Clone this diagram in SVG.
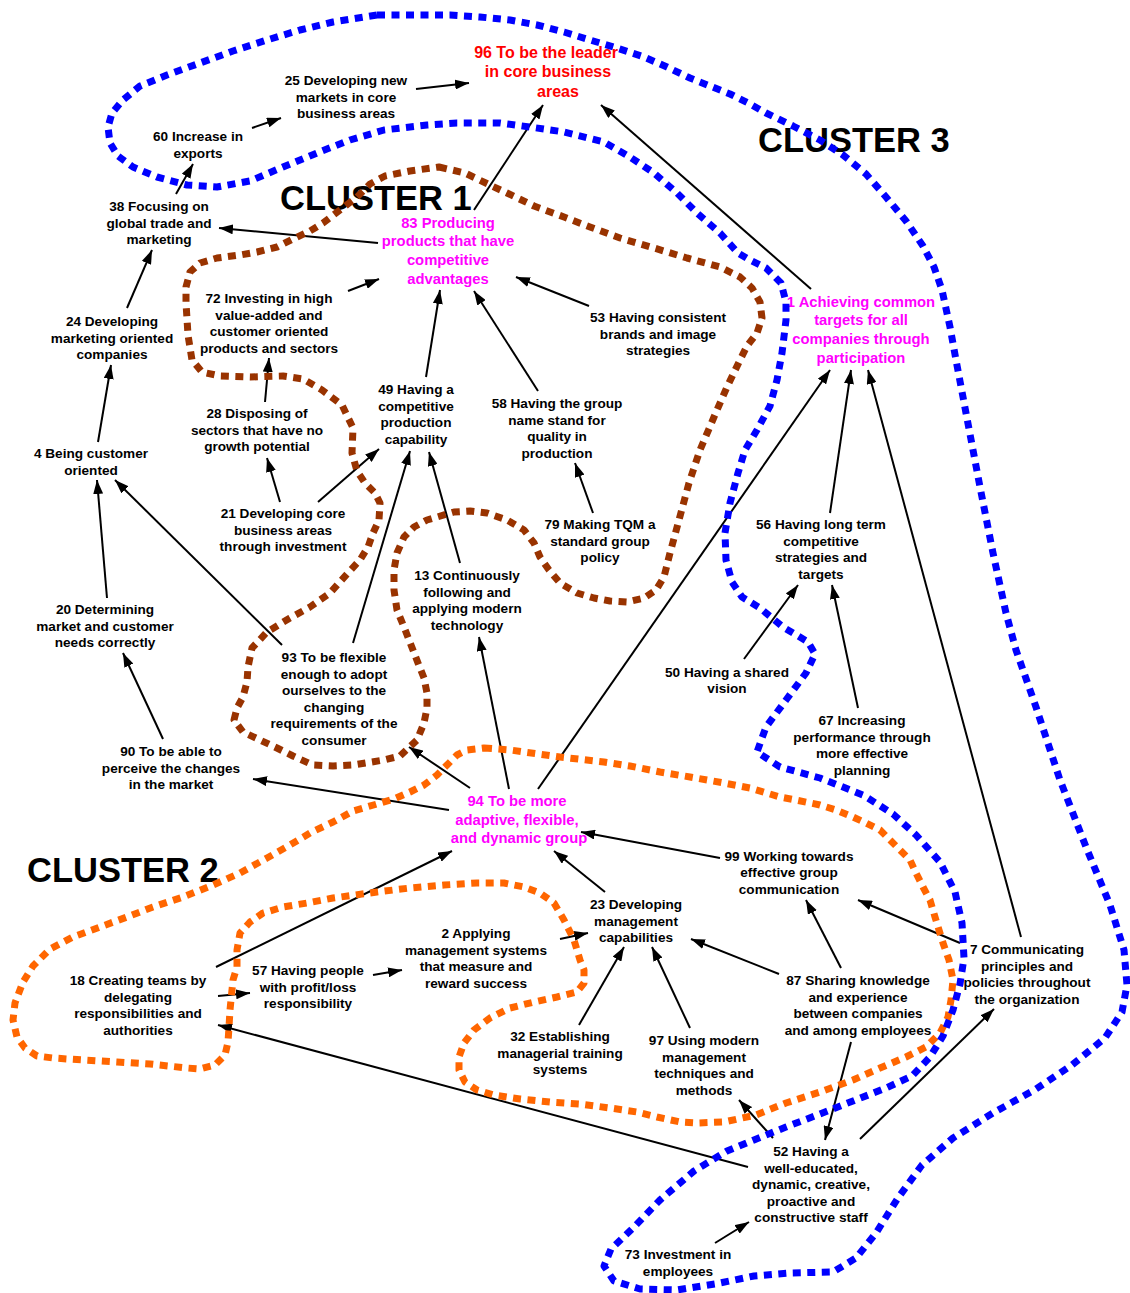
<svg xmlns="http://www.w3.org/2000/svg" width="1130" height="1293" viewBox="0 0 1130 1293">
<defs>
<style>
.n{font-family:"Liberation Sans",Arial,sans-serif;font-weight:bold;font-size:13.6px;fill:#000;text-anchor:middle}
.m{font-family:"Liberation Sans",Arial,sans-serif;font-weight:bold;font-size:14.8px;fill:#FF00FF;text-anchor:middle}
.r{font-family:"Liberation Sans",Arial,sans-serif;font-weight:bold;font-size:16px;fill:#FF0000;text-anchor:middle}
.cl{font-family:"Liberation Sans",Arial,sans-serif;font-weight:bold;font-size:34.5px;fill:#000}
.c line{stroke:#000;stroke-width:2;marker-end:url(#ah)}
.dot{fill:none;stroke-width:7;stroke-dasharray:8 6.5;stroke-linejoin:round}
</style>
<marker id="ah" markerUnits="userSpaceOnUse" markerWidth="14" markerHeight="10" refX="14" refY="5" orient="auto"><path d="M0,0 L14,5 L0,10 Z" fill="#000"/></marker>
</defs>
<rect width="1130" height="1293" fill="#fff"/>
<g id="connectors" class="c">
<line x1="252" y1="128" x2="281" y2="118"/>
<line x1="416" y1="89" x2="469" y2="83"/>
<line x1="176" y1="194" x2="193" y2="164"/>
<line x1="378" y1="243" x2="219" y2="228"/>
<line x1="474" y1="210" x2="543" y2="105"/>
<line x1="811" y1="289" x2="601" y2="105"/>
<line x1="127" y1="308" x2="152" y2="250"/>
<line x1="348" y1="291" x2="379" y2="279"/>
<line x1="589" y1="306" x2="516" y2="277"/>
<line x1="426" y1="377" x2="440" y2="290"/>
<line x1="538" y1="391" x2="474" y2="291"/>
<line x1="98" y1="442" x2="111" y2="365"/>
<line x1="265" y1="402" x2="269" y2="358"/>
<line x1="280" y1="502" x2="267" y2="458"/>
<line x1="318" y1="502" x2="379" y2="449"/>
<line x1="107" y1="598" x2="97" y2="480"/>
<line x1="282" y1="645" x2="115" y2="480"/>
<line x1="353" y1="643" x2="410" y2="451"/>
<line x1="460" y1="563" x2="429" y2="452"/>
<line x1="593" y1="513" x2="575" y2="463"/>
<line x1="163" y1="739" x2="123" y2="653"/>
<line x1="449" y1="810" x2="253" y2="779"/>
<line x1="470" y1="788" x2="409" y2="747"/>
<line x1="509" y1="789" x2="479" y2="637"/>
<line x1="538" y1="789" x2="830" y2="370"/>
<line x1="830" y1="513" x2="851" y2="370"/>
<line x1="1021" y1="937" x2="868" y2="370"/>
<line x1="744" y1="659" x2="798" y2="585"/>
<line x1="858" y1="708" x2="832" y2="585"/>
<line x1="720" y1="858" x2="581" y2="832"/>
<line x1="605" y1="892" x2="554" y2="851"/>
<line x1="216" y1="967" x2="452" y2="851"/>
<line x1="218" y1="996" x2="250" y2="993"/>
<line x1="373" y1="975" x2="402" y2="970"/>
<line x1="560" y1="939" x2="588" y2="933"/>
<line x1="579" y1="1025" x2="624" y2="947"/>
<line x1="690" y1="1028" x2="652" y2="947"/>
<line x1="779" y1="974" x2="691" y2="939"/>
<line x1="841" y1="968" x2="806" y2="900"/>
<line x1="960" y1="943" x2="858" y2="900"/>
<line x1="851" y1="1042" x2="825" y2="1140"/>
<line x1="860" y1="1139" x2="994" y2="1009"/>
<line x1="773" y1="1138" x2="739" y2="1100"/>
<line x1="748" y1="1167" x2="218" y2="1025"/>
<line x1="715" y1="1243" x2="749" y2="1222"/>
</g>
<g id="n96"><text class="r"><tspan x="546" y="57.5">96 To be the leader</tspan><tspan x="548" y="77">in core business</tspan><tspan x="558" y="96.5">areas</tspan></text></g>
<g id="n25"><text class="n"><tspan x="346" y="85">25 Developing new</tspan><tspan x="346" y="101.5">markets in core</tspan><tspan x="346" y="118">business areas</tspan></text></g>
<g id="n60"><text class="n"><tspan x="198" y="141">60 Increase in</tspan><tspan x="198" y="157.5">exports</tspan></text></g>
<g id="n38"><text class="n"><tspan x="159" y="211">38 Focusing on</tspan><tspan x="159" y="227.5">global trade and</tspan><tspan x="159" y="244">marketing</tspan></text></g>
<g id="n24"><text class="n"><tspan x="112" y="326">24 Developing</tspan><tspan x="112" y="342.5">marketing oriented</tspan><tspan x="112" y="359">companies</tspan></text></g>
<g id="n4"><text class="n"><tspan x="91" y="458">4 Being customer</tspan><tspan x="91" y="474.5">oriented</tspan></text></g>
<g id="n20"><text class="n"><tspan x="105" y="614">20 Determining</tspan><tspan x="105" y="630.5">market and customer</tspan><tspan x="105" y="647">needs correctly</tspan></text></g>
<g id="n90"><text class="n"><tspan x="171" y="756">90 To be able to</tspan><tspan x="171" y="772.5">perceive the changes</tspan><tspan x="171" y="789">in the market</tspan></text></g>
<g id="n72"><text class="n"><tspan x="269" y="303">72 Investing in high</tspan><tspan x="269" y="319.5">value-added and</tspan><tspan x="269" y="336">customer oriented</tspan><tspan x="269" y="352.5">products and sectors</tspan></text></g>
<g id="n28"><text class="n"><tspan x="257" y="418">28 Disposing of</tspan><tspan x="257" y="434.5">sectors that have no</tspan><tspan x="257" y="451">growth potential</tspan></text></g>
<g id="n21"><text class="n"><tspan x="283" y="518">21 Developing core</tspan><tspan x="283" y="534.5">business areas</tspan><tspan x="283" y="551">through investment</tspan></text></g>
<g id="n49"><text class="n"><tspan x="416" y="394">49 Having a</tspan><tspan x="416" y="410.5">competitive</tspan><tspan x="416" y="427">production</tspan><tspan x="416" y="443.5">capability</tspan></text></g>
<g id="n58"><text class="n"><tspan x="557" y="408">58 Having the group</tspan><tspan x="557" y="424.5">name stand for</tspan><tspan x="557" y="441">quality in</tspan><tspan x="557" y="457.5">production</tspan></text></g>
<g id="n53"><text class="n"><tspan x="658" y="322">53 Having consistent</tspan><tspan x="658" y="338.5">brands and image</tspan><tspan x="658" y="355">strategies</tspan></text></g>
<g id="n79"><text class="n"><tspan x="600" y="529">79 Making TQM a</tspan><tspan x="600" y="545.5">standard group</tspan><tspan x="600" y="562">policy</tspan></text></g>
<g id="n13"><text class="n"><tspan x="467" y="580">13 Continuously</tspan><tspan x="467" y="596.5">following and</tspan><tspan x="467" y="613">applying modern</tspan><tspan x="467" y="629.5">technology</tspan></text></g>
<g id="n93"><text class="n"><tspan x="334" y="662">93 To be flexible</tspan><tspan x="334" y="678.5">enough to adopt</tspan><tspan x="334" y="695">ourselves to the</tspan><tspan x="334" y="711.5">changing</tspan><tspan x="334" y="728">requirements of the</tspan><tspan x="334" y="744.5">consumer</tspan></text></g>
<g id="n83"><text class="m"><tspan x="448" y="227.5">83 Producing</tspan><tspan x="448" y="246.2">products that have</tspan><tspan x="448" y="264.9">competitive</tspan><tspan x="448" y="283.6">advantages</tspan></text></g>
<g id="n1"><text class="m"><tspan x="861" y="306.5">1 Achieving common</tspan><tspan x="861" y="325.2">targets for all</tspan><tspan x="861" y="343.9">companies through</tspan><tspan x="861" y="362.6">participation</tspan></text></g>
<g id="n94"><text class="m"><tspan x="517" y="806">94 To be more</tspan><tspan x="517" y="824.7">adaptive, flexible,</tspan><tspan x="519" y="843.4">and dynamic group</tspan></text></g>
<g id="n56"><text class="n"><tspan x="821" y="529">56 Having long term</tspan><tspan x="821" y="545.5">competitive</tspan><tspan x="821" y="562">strategies and</tspan><tspan x="821" y="578.5">targets</tspan></text></g>
<g id="n50"><text class="n"><tspan x="727" y="676.5">50 Having a shared</tspan><tspan x="727" y="693">vision</tspan></text></g>
<g id="n67"><text class="n"><tspan x="862" y="725">67 Increasing</tspan><tspan x="862" y="741.5">performance through</tspan><tspan x="862" y="758">more effective</tspan><tspan x="862" y="774.5">planning</tspan></text></g>
<g id="n99"><text class="n"><tspan x="789" y="860.5">99 Working towards</tspan><tspan x="789" y="877">effective group</tspan><tspan x="789" y="893.5">communication</tspan></text></g>
<g id="n23"><text class="n"><tspan x="636" y="909">23 Developing</tspan><tspan x="636" y="925.5">management</tspan><tspan x="636" y="942">capabilities</tspan></text></g>
<g id="n2"><text class="n"><tspan x="476" y="938">2 Applying</tspan><tspan x="476" y="954.5">management systems</tspan><tspan x="476" y="971">that measure and</tspan><tspan x="476" y="987.5">reward success</tspan></text></g>
<g id="n57"><text class="n"><tspan x="308" y="975">57 Having people</tspan><tspan x="308" y="991.5">with profit/loss</tspan><tspan x="308" y="1008">responsibility</tspan></text></g>
<g id="n18"><text class="n"><tspan x="138" y="985">18 Creating teams by</tspan><tspan x="138" y="1001.5">delegating</tspan><tspan x="138" y="1018">responsibilities and</tspan><tspan x="138" y="1034.5">authorities</tspan></text></g>
<g id="n32"><text class="n"><tspan x="560" y="1041">32 Establishing</tspan><tspan x="560" y="1057.5">managerial training</tspan><tspan x="560" y="1074">systems</tspan></text></g>
<g id="n97"><text class="n"><tspan x="704" y="1045">97 Using modern</tspan><tspan x="704" y="1061.5">management</tspan><tspan x="704" y="1078">techniques and</tspan><tspan x="704" y="1094.5">methods</tspan></text></g>
<g id="n87"><text class="n"><tspan x="858" y="985">87 Sharing knowledge</tspan><tspan x="858" y="1001.5">and experience</tspan><tspan x="858" y="1018">between companies</tspan><tspan x="858" y="1034.5">and among employees</tspan></text></g>
<g id="n7"><text class="n"><tspan x="1027" y="954">7 Communicating</tspan><tspan x="1027" y="970.5">principles and</tspan><tspan x="1027" y="987">policies throughout</tspan><tspan x="1027" y="1003.5">the organization</tspan></text></g>
<g id="n52"><text class="n"><tspan x="811" y="1156">52 Having a</tspan><tspan x="811" y="1172.5">well-educated,</tspan><tspan x="811" y="1189">dynamic, creative,</tspan><tspan x="811" y="1205.5">proactive and</tspan><tspan x="811" y="1222">constructive staff</tspan></text></g>
<g id="n73"><text class="n"><tspan x="678" y="1259">73 Investment in</tspan><tspan x="678" y="1275.5">employees</tspan></text></g>
<g id="cluster-labels">
<text class="cl" x="280" y="210">CLUSTER 1</text>
<text class="cl" x="27" y="882">CLUSTER 2</text>
<text class="cl" x="758" y="152">CLUSTER 3</text>
</g>
<g id="clusters">
<path id="cluster1" class="dot" stroke="#993300" d="M439,167 L465,173 492,186 507,193 534,206 564,217 590,227 620,238 654,248 687,258 720,267 740,277 752,288 760,302 762,318 757,333 747,346 740,360 727,387 714,417 700,450 689,483 679,520 670,553 664,577 656,590 644,598 627,602 610,601 594,598 577,593 560,583 549,570 540,557 534,543 524,530 507,520 487,513 470,511 454,512 427,520 414,527 404,537 397,553 394,570 394,590 397,610 404,627 411,645 418,663 424,678 427,693 427,708 424,723 417,740 400,756 384,760 353,765 333,766 313,765 293,756 277,748 260,740 243,732 234,720 237,708 243,697 247,682 248,667 252,648 267,632 290,618 310,607 330,593 347,574 360,560 368,547 373,533 379,520 380,503 375,493 365,483 357,471 352,453 353,428 342,405 322,390 303,379 283,376 250,377 220,376 202,372 192,360 188,335 186,303 186,287 190,272 200,263 217,258 240,255 257,252 277,247 293,239 310,231 323,223 340,210 357,197 370,184 385,176 410,171 Z"/>
<path id="cluster2" class="dot" stroke="#FF6600" d="M484,748 L510,750 560,757 604,762 630,766 660,772 690,777 724,783 750,788 780,797 796,800 820,805 836,810 853,817 866,823 880,830 890,840 900,850 910,860 916,873 923,887 930,900 935,917 943,943 949,960 953,980 951,1000 948,1017 940,1033 926,1047 906,1057 880,1068 853,1080 820,1092 786,1103 756,1115 724,1122 697,1123 680,1122 657,1117 637,1112 610,1108 580,1104 550,1102 520,1099 494,1095 477,1090 465,1082 459,1070 459,1057 464,1043 474,1030 490,1018 510,1008 534,1002 557,997 577,992 584,983 584,970 580,960 574,940 564,920 554,903 540,893 524,887 504,883 477,883 444,885 410,888 377,892 333,898 307,903 283,907 263,913 250,922 240,933 237,950 237,967 233,980 230,1010 229,1027 228,1042 225,1055 215,1065 200,1069 187,1068 150,1064 117,1062 83,1060 53,1058 37,1056 25,1048 17,1037 13,1020 15,1003 23,982 33,966 50,949 73,937 100,927 127,917 153,907 183,897 213,885 240,873 267,858 290,845 310,833 333,822 353,811 377,804 394,799 410,792 424,785 437,775 447,765 457,755 467,750 Z"/>
<path id="cluster3" class="dot" stroke="#0000FF" d="M377,15 L420,15 450,15 480,17 510,20 537,25 564,32 590,40 617,48 644,57 667,67 690,78 710,86 730,94 750,104 766,113 793,126 820,140 843,155 866,174 886,197 906,221 923,246 934,267 942,290 950,327 956,360 966,413 980,487 993,553 1006,613 1016,650 1036,707 1060,780 1086,847 1110,905 1124,950 1127,985 1122,1012 1105,1038 1072,1065 1036,1089 993,1113 953,1138 922,1165 898,1198 876,1233 856,1258 833,1272 790,1273 754,1276 715,1284 677,1290 640,1289 614,1281 604,1266 611,1249 634,1227 660,1200 694,1171 727,1151 754,1140 786,1127 820,1114 853,1101 886,1088 912,1076 930,1057 943,1036 953,1010 960,984 964,958 962,923 955,892 940,862 916,835 893,814 863,795 820,778 780,767 757,752 766,727 786,700 806,673 815,654 808,642 783,627 760,608 742,597 732,582 726,560 725,533 730,503 738,473 745,450 757,430 770,406 777,380 782,353 786,320 786,302 781,283 766,268 748,259 738,253 720,233 697,213 677,193 654,173 630,157 604,142 564,132 530,127 500,123 457,123 427,125 384,130 350,140 317,153 283,167 250,181 217,187 187,185 157,177 133,167 118,156 110,143 108,127 112,113 123,100 140,86 167,75 200,63 233,51 267,40 300,30 333,22 Z"/>
</g>
</svg>
